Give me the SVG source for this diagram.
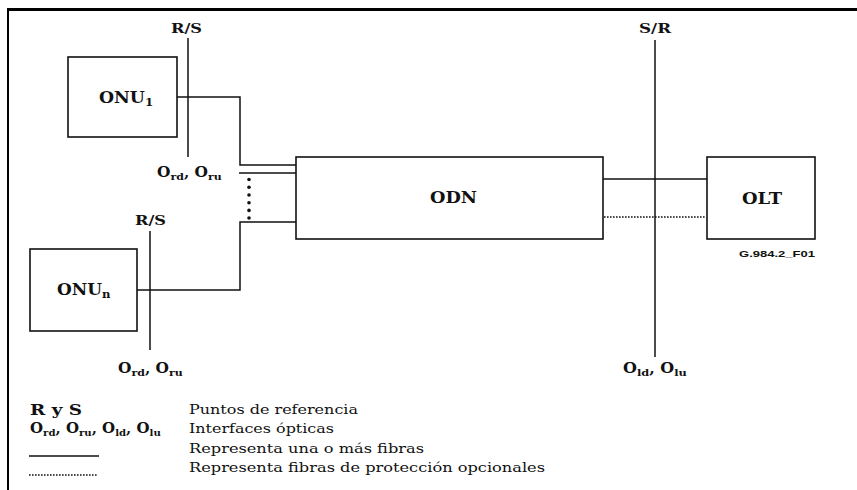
<svg xmlns="http://www.w3.org/2000/svg" width="857" height="490" viewBox="0 0 857 490">
<style>
.box{fill:#fff;stroke:#111;stroke-width:1.6}
.ln{fill:none;stroke:#111;stroke-width:1.5}
.dot{fill:none;stroke:#111;stroke-width:1.4;stroke-dasharray:1.6 1.4}
.lbl{font-family:"DejaVu Serif","Liberation Serif",serif;font-weight:bold;fill:#111}
.leg{font-family:"DejaVu Serif","Liberation Serif",serif;fill:#111;font-size:13.5px}
.code{font-family:"Liberation Sans",Arial,sans-serif;font-weight:bold;fill:#111;font-size:9px}
</style>
<rect width="857" height="490" fill="#fff"/>
<g id="frame">
<line x1="7" y1="9.5" x2="857" y2="9.5" stroke="#000" stroke-width="3"/>
<line x1="8" y1="8" x2="8" y2="490" stroke="#000" stroke-width="2"/>
</g>
<g id="connectors">
<polyline class="ln" points="177,97 240,97 240,165 296,165"/>
<line class="ln" x1="239" y1="173" x2="296" y2="173"/>
<polyline class="ln" points="137,290 240,290 240,222 296,222"/>
<line class="ln" x1="603" y1="179" x2="707" y2="179"/>
<line class="dot" x1="604" y1="217" x2="706" y2="217"/>
<g fill="#111">
<circle cx="249" cy="179.5" r="1.8"/>
<circle cx="249" cy="187.2" r="1.8"/>
<circle cx="249" cy="195" r="1.8"/>
<circle cx="249" cy="202.7" r="1.8"/>
<circle cx="249" cy="210.4" r="1.8"/>
<circle cx="249" cy="218" r="1.8"/>
</g>
</g>
<g id="refRS1">
<line class="ln" x1="188" y1="38" x2="188" y2="157"/>
<text class="lbl" x="171" y="33" font-size="13.5" textLength="31" lengthAdjust="spacingAndGlyphs">R/S</text>
<text class="lbl" font-size="14" transform="translate(157,177) scale(1.1,1)">O<tspan font-size="10" dy="3">rd</tspan><tspan dy="-3">, O</tspan><tspan font-size="10" dy="3">ru</tspan></text>
</g>
<g id="refRS2">
<line class="ln" x1="150" y1="231" x2="150" y2="350"/>
<text class="lbl" x="135" y="225" font-size="13.5" textLength="31" lengthAdjust="spacingAndGlyphs">R/S</text>
<text class="lbl" font-size="14" transform="translate(118,373) scale(1.1,1)">O<tspan font-size="10" dy="3">rd</tspan><tspan dy="-3">, O</tspan><tspan font-size="10" dy="3">ru</tspan></text>
</g>
<g id="refSR">
<line class="ln" x1="655" y1="40" x2="655" y2="357"/>
<text class="lbl" x="639" y="33" font-size="13.5" textLength="32" lengthAdjust="spacingAndGlyphs">S/R</text>
<text class="lbl" font-size="14" transform="translate(623,373) scale(1.14,1)">O<tspan font-size="10" dy="3">ld</tspan><tspan dy="-3">, O</tspan><tspan font-size="10" dy="3">lu</tspan></text>
</g>
<g id="onu1">
<rect class="box" x="68" y="57" width="109" height="80"/>
<text class="lbl" font-size="16" transform="translate(99,103) scale(1.08,1)">ONU<tspan font-size="11" dy="3">1</tspan></text>
</g>
<g id="onun">
<rect class="box" x="30" y="249" width="107" height="82"/>
<text class="lbl" font-size="16" transform="translate(57,295) scale(1.06,1)">ONU<tspan font-size="11" dy="3">n</tspan></text>
</g>
<g id="odn">
<rect class="box" x="296" y="157" width="307" height="82"/>
<text class="lbl" x="430" y="203" font-size="16" textLength="47" lengthAdjust="spacingAndGlyphs">ODN</text>
</g>
<g id="olt">
<rect class="box" x="707" y="157" width="108" height="82"/>
<text class="lbl" x="742" y="204" font-size="16" textLength="40" lengthAdjust="spacingAndGlyphs">OLT</text>
<text class="code" x="739" y="257" textLength="76" lengthAdjust="spacingAndGlyphs">G.984.2_F01</text>
</g>
<g id="legend">
<text class="lbl" x="30" y="415" font-size="14" textLength="52" lengthAdjust="spacingAndGlyphs">R y S</text>
<text class="lbl" font-size="14" transform="translate(30,433) scale(1.07,1)">O<tspan font-size="9.5" dy="3">rd</tspan><tspan dy="-3">, O</tspan><tspan font-size="9.5" dy="3">ru</tspan><tspan dy="-3">, O</tspan><tspan font-size="9.5" dy="3">ld</tspan><tspan dy="-3">, O</tspan><tspan font-size="9.5" dy="3">lu</tspan></text>
<line class="ln" x1="29" y1="456" x2="99" y2="456"/>
<line class="dot" x1="29" y1="475" x2="98" y2="475"/>
<text class="leg" x="189" y="414" textLength="169" lengthAdjust="spacingAndGlyphs">Puntos de referencia</text>
<text class="leg" x="189" y="433" textLength="145" lengthAdjust="spacingAndGlyphs">Interfaces ópticas</text>
<text class="leg" x="189" y="453" textLength="235" lengthAdjust="spacingAndGlyphs">Representa una o más fibras</text>
<text class="leg" x="189" y="472" textLength="356" lengthAdjust="spacingAndGlyphs">Representa fibras de protección opcionales</text>
</g>
</svg>
